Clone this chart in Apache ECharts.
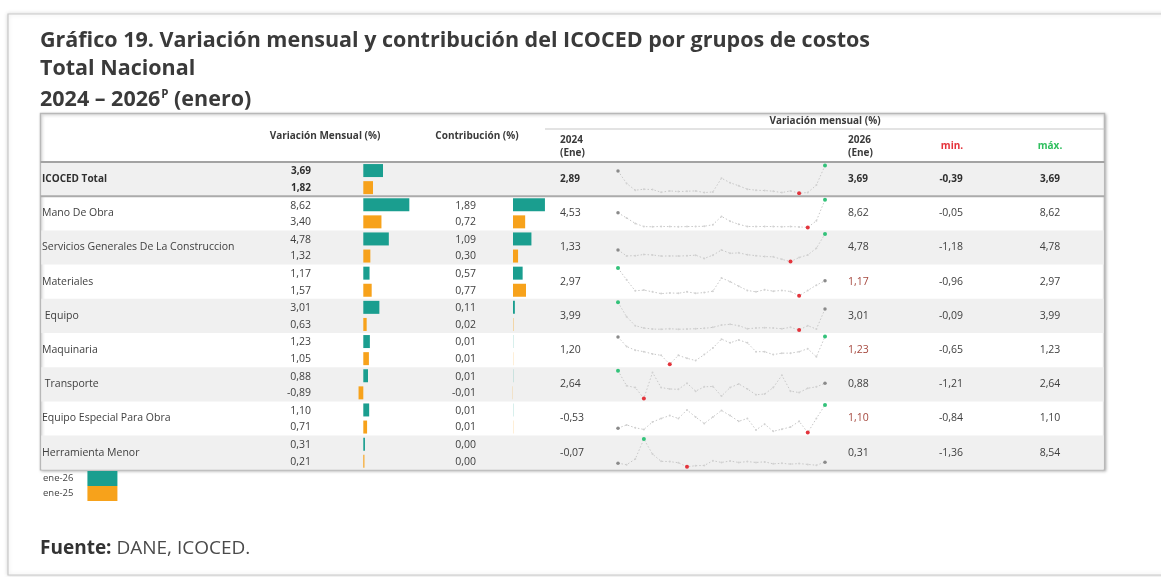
<!DOCTYPE html>
<html><head><meta charset="utf-8">
<script src="https://cdn.jsdelivr.net/npm/echarts@6/dist/echarts.min.js"></script>
<style>html,body{margin:0;padding:0;background:#fff;}#c{width:1161px;height:577px;}</style>
</head><body><div id="c"></div>
<script>
// ---------------- DATA ----------------
const categories = ['ICOCED Total', 'Mano De Obra', 'Servicios Generales De La Construccion', 'Materiales', ' Equipo', 'Maquinaria', ' Transporte', 'Equipo Especial Para Obra', 'Herramienta Menor'];
const seriesNames = ['ene-26', 'ene-25'];
const varEne26 = [3.69, 8.62, 4.78, 1.17, 3.01, 1.23, 0.88, 1.10, 0.31];
const varEne25 = [1.82, 3.40, 1.32, 1.57, 0.63, 1.05, -0.89, 0.71, 0.21];
const contribEne26 = [null, 1.89, 1.09, 0.57, 0.11, 0.01, 0.01, 0.01, 0.00];
const contribEne25 = [null, 0.72, 0.30, 0.77, 0.02, 0.01, -0.01, 0.01, 0.00];
const var2024Ene = [2.89, 4.53, 1.33, 2.97, 3.99, 1.20, 2.64, -0.53, -0.07];
const var2026Ene = [3.69, 8.62, 4.78, 1.17, 3.01, 1.23, 0.88, 1.10, 0.31];
const minValues = [-0.39, -0.05, -1.18, -0.96, -0.09, -0.65, -1.21, -0.84, -1.36];
const maxValues = [3.69, 8.62, 4.78, 2.97, 3.99, 1.23, 2.64, 1.10, 8.54];
const months = ['ene-24','feb-24','mar-24','abr-24','may-24','jun-24','jul-24','ago-24','sep-24','oct-24','nov-24','dic-24',
                'ene-25','feb-25','mar-25','abr-25','may-25','jun-25','jul-25','ago-25','sep-25','oct-25','nov-25','dic-25','ene-26'];
const spkTotal      = [2.89, 1.05, 0.05, 0.20, 0.15, -0.25, -0.05, -0.15, -0.10, -0.05, -0.30, -0.20, 1.82, 1.15, 0.70, 0.20, 0.05, 0.00, -0.10, -0.30, -0.05, -0.39, -0.30, 0.80, 3.69];
const spkManoObra   = [4.53, 2.90, 1.20, 0.20, 0.15, 0.25, 0.20, 0.15, 0.20, 0.25, 0.30, 0.80, 3.40, 1.90, 0.90, 0.25, 0.20, 0.25, 0.20, 0.15, 0.20, 0.10, -0.05, 2.00, 8.62];
const spkServicios  = [1.33, 0.05, 0.10, 0.35, 0.25, 0.00, 0.05, 0.00, 0.10, 0.20, -0.50, 0.20, 1.32, 0.60, 0.70, 0.30, 0.10, -0.10, -0.15, -0.70, -1.18, -0.30, 0.25, 1.70, 4.78];
const spkMateriales = [2.97, 1.30, -0.25, -0.15, -0.40, -0.65, -0.55, -0.60, -0.40, -0.60, -0.50, -0.30, 1.57, 1.05, 0.40, -0.20, -0.40, -0.10, -0.30, -0.20, -0.35, -0.96, -0.20, 0.55, 1.17];
const spkEquipo     = [3.99, 1.85, 0.55, 0.20, 0.05, 0.02, 0.10, 0.02, 0.05, 0.10, 0.15, 0.30, 0.63, 0.75, 0.55, 0.10, 0.20, 0.25, 0.20, 0.10, 0.30, -0.09, 0.55, 0.05, 3.01];
const spkMaquinaria = [1.20, 0.55, 0.30, 0.20, 0.05, -0.05, -0.65, -0.05, -0.25, -0.40, 0.00, 0.45, 1.05, 0.80, 1.00, 0.80, 0.20, 0.20, 0.00, 0.10, 0.10, 0.20, 0.40, -0.15, 1.23];
const spkTransporte = [2.64, 0.55, 0.30, -1.21, 2.40, 0.30, 0.10, 0.05, 0.90, -0.20, 0.40, 0.45, -0.89, 0.30, 0.80, 0.10, -0.70, -0.60, 0.30, 2.00, -0.20, -0.40, 0.20, 0.40, 0.88];
const spkEquipoEsp  = [-0.53, -0.30, -0.50, -0.62, -0.10, 0.15, 0.35, 0.15, 0.75, 0.25, -0.20, 0.25, 0.71, 0.35, -0.05, 0.15, -0.65, -0.25, -0.75, -0.60, -0.45, -0.05, -0.84, 0.15, 1.10];
const spkHerramienta= [-0.07, -0.60, 1.40, 8.54, 3.20, 0.60, 0.50, 0.10, -1.36, -0.95, -0.90, 0.80, 0.21, 0.70, 0.20, 0.50, 0.20, 0.40, -0.30, -0.10, -0.40, -0.20, -0.50, -0.80, 0.31];
const sparklines = [spkTotal, spkManoObra, spkServicios, spkMateriales, spkEquipo, spkMaquinaria, spkTransporte, spkEquipoEsp, spkHerramienta];

// ---------------- STYLE / LAYOUT ----------------
const FONT = 'Open Sans';
const TEAL = '#1a9e8f', ORANGE = '#f7a21b';
const TXT = '#404040';
const tblL = 40.5, tblR = 1104.5, tblT = 113.5, hdrB = 162, rowH = 34.2;
const nRows = categories.length;
const tblB = hdrB + nRows * rowH;
const rowTop = r => hdrB + r * rowH;
const highlight2026 = new Set([3, 5, 7]);
const fmt = v => (v == null ? '' : v.toFixed(2).replace('.', ','));

const chart = echarts.init(document.getElementById('c'), null, {renderer: 'canvas'});
const graphic = [];
function txt(x, y, text, o) {
  o = o || {};
  graphic.push({type: 'text', x: x, y: y, z: 20, silent: true, style: Object.assign({
    text: text, fill: TXT, fontFamily: FONT, fontSize: 10.5, fontWeight: 'normal',
    align: 'left', verticalAlign: 'middle'}, o)});
}
function line(x1, y1, x2, y2, color, w, z) {
  graphic.push({type: 'line', z: z || 15, silent: true, shape: {x1, y1, x2, y2}, style: {stroke: color, lineWidth: w}});
}
// page frame
graphic.push({type: 'rect', z: 0, silent: true, shape: {x: 8, y: 14, width: 1170, height: 561},
  style: {fill: '#fff', stroke: '#c9c9c9', lineWidth: 1.2, shadowBlur: 4, shadowColor: 'rgba(0,0,0,0.15)'}});
// titles
const TFS = 21.5;
const TT = {fontSize: TFS, fontWeight: 'bold', fill: '#3a3a3a'};
txt(40, 41, 'Gráfico 19. Variación mensual y contribución del ICOCED por grupos de costos', TT);
txt(40, 69, 'Total Nacional', TT);
txt(40, 100, '{a|2024 – 2026}{s|P}{a| (enero)}', Object.assign({}, TT, {
  rich: {a: {fontSize: TFS, fontWeight: 'bold', fontFamily: FONT, fill: '#3a3a3a'},
         s: {fontSize: 11.5, fontWeight: 'bold', fontFamily: FONT, fill: '#3a3a3a', padding: [0, 0, 10, 1]}}}));
// table box
graphic.push({type: 'rect', z: 1, silent: true, shape: {x: tblL, y: tblT, width: tblR - tblL, height: tblB - tblT},
  style: {fill: '#fff', stroke: '#b8b8b8', lineWidth: 1.5, shadowBlur: 3, shadowOffsetX: 1, shadowOffsetY: 1, shadowColor: 'rgba(0,0,0,0.25)'}});
for (let r = 0; r < nRows; r++) {
  if (r % 2 === 0) graphic.push({type: 'rect', z: 2, silent: true,
    shape: {x: tblL + 0.8, y: rowTop(r), width: tblR - tblL - 1.6, height: rowH}, style: {fill: '#f0f0f0'}});
}
line(545, 129, tblR, 129, '#c8c8c8', 1.2);
line(tblL, hdrB, tblR, hdrB, '#a3a3a3', 2);
line(tblL, rowTop(1), tblR, rowTop(1), '#ababab', 2);
// headers
const H = {fontSize: 10, fontWeight: 'bold', fill: '#3a3a3a'};
txt(325, 136, 'Variación Mensual (%)', Object.assign({align: 'center'}, H));
txt(477, 136, 'Contribución (%)', Object.assign({align: 'center'}, H));
txt(825, 121, 'Variación mensual (%)', Object.assign({align: 'center'}, H));
txt(560, 140, '2024', H); txt(560, 153, '(Ene)', H);
txt(848, 140, '2026', H); txt(848, 153, '(Ene)', H);
txt(952, 146, 'min.', Object.assign({}, H, {align: 'center', fill: '#e5323a'}));
txt(1050, 146, 'máx.', Object.assign({}, H, {align: 'center', fill: '#2fbf5e'}));
// cells
for (let r = 0; r < nRows; r++) {
  const t = rowTop(r), c = t + rowH / 2;
  const o = r === 0 ? {fontWeight: 'bold', fill: '#2f2f2f', fontSize: 10} : {};
  txt(42, c, categories[r], o);
  txt(311, t + 9.5, fmt(varEne26[r]), Object.assign({align: 'right'}, o));
  txt(311, t + 26, fmt(varEne25[r]), Object.assign({align: 'right'}, o));
  if (contribEne26[r] != null) {
    txt(476, t + 9.5, fmt(contribEne26[r]), {align: 'right'});
    txt(476, t + 26, fmt(contribEne25[r]), {align: 'right'});
  }
  txt(560, c, fmt(var2024Ene[r]), o);
  txt(848, c, fmt(var2026Ene[r]), Object.assign({}, o, highlight2026.has(r) ? {fill: '#a5483e'} : {}));
  txt(951, c, fmt(minValues[r]), Object.assign({align: 'center'}, o));
  txt(1050, c, fmt(maxValues[r]), Object.assign({align: 'center'}, o));
}
// source
txt(40, 549, '{b|Fuente:} DANE, ICOCED.', {fontSize: 19, fill: '#4a4a4a',
  rich: {b: {fontSize: 19, fontWeight: 'bold', fontFamily: FONT, fill: '#333'}}});

// ---------------- GRIDS / SERIES ----------------
const slots = [];
for (let r = 0; r < nRows; r++) { slots.push(categories[r] + '|26', categories[r] + '|25'); }
const slotData = (a, odd) => slots.map((s, i) => (i % 2 === (odd ? 1 : 0) ? a[i >> 1] : null));

const grid = [], xAxis = [], yAxis = [], series = [];
// variation bars: 0 at x=363.3, 5.34 px/unit
grid.push({left: 363.3 - 2 * 5.34, width: 12 * 5.34, top: hdrB, height: nRows * rowH});
xAxis.push({type: 'value', gridIndex: 0, min: -2, max: 10, show: false});
yAxis.push({type: 'category', gridIndex: 0, data: slots, inverse: true, show: false});
// contribution bars: 0 at x=513, 16.9 px/unit
grid.push({left: 513 - 16.9, width: 4 * 16.9, top: hdrB, height: nRows * rowH});
xAxis.push({type: 'value', gridIndex: 1, min: -1, max: 3, show: false});
yAxis.push({type: 'category', gridIndex: 1, data: slots, inverse: true, show: false});
const barBase = {type: 'bar', barWidth: 13, barGap: '-100%', z: 5, silent: true};
series.push(Object.assign({name: seriesNames[0], xAxisIndex: 0, yAxisIndex: 0, data: slotData(varEne26, false), itemStyle: {color: TEAL}}, barBase));
series.push(Object.assign({name: seriesNames[1], xAxisIndex: 0, yAxisIndex: 0, data: slotData(varEne25, true), itemStyle: {color: ORANGE}}, barBase));
series.push(Object.assign({name: seriesNames[0], xAxisIndex: 1, yAxisIndex: 1, data: slotData(contribEne26, false), itemStyle: {color: TEAL}}, barBase));
series.push(Object.assign({name: seriesNames[1], xAxisIndex: 1, yAxisIndex: 1, data: slotData(contribEne25, true), itemStyle: {color: ORANGE}}, barBase));
// sparklines
sparklines.forEach((arr, r) => {
  const gi = grid.length;
  grid.push({left: 618, width: 207, top: rowTop(r) + 3.5, height: rowH - 6.5});
  xAxis.push({type: 'category', gridIndex: gi, data: months, boundaryGap: false, show: false});
  yAxis.push({type: 'value', gridIndex: gi, min: 'dataMin', max: 'dataMax', show: false, scale: true});
  let iMax = 0, iMin = 0;
  arr.forEach((v, i) => { if (v > arr[iMax]) iMax = i; if (v < arr[iMin]) iMin = i; });
  const data = arr.map((v, i) => {
    if (i === iMax) return {value: v, symbolSize: 4, itemStyle: {color: '#33c27a'}};
    if (i === iMin) return {value: v, symbolSize: 4, itemStyle: {color: '#e3343c'}};
    if (i === 0 || i === arr.length - 1) return {value: v, symbolSize: 3.5, itemStyle: {color: '#8a8a8a'}};
    return v;
  });
  series.push({type: 'line', name: 'spark' + r, xAxisIndex: gi, yAxisIndex: gi, data: data, z: 6, silent: true,
    symbol: 'circle', symbolSize: 2, showSymbol: true, showAllSymbol: true,
    itemStyle: {color: '#d2d2d2'}, lineStyle: {color: '#c8c8c8', width: 1, type: [1.5, 2]}});
});

chart.setOption({
  animation: false,
  backgroundColor: '#fff',
  textStyle: {fontFamily: FONT},
  graphic: graphic,
  legend: {data: seriesNames, left: 43, top: 471, orient: 'vertical', align: 'right', icon: 'rect',
    itemWidth: 30, itemHeight: 15, itemGap: 0, padding: 0, selectedMode: false,
    textStyle: {fontFamily: FONT, fontSize: 9.5, color: '#444', padding: [0, 9, 0, 0]}},
  grid: grid, xAxis: xAxis, yAxis: yAxis, series: series
});
</script></body></html>
